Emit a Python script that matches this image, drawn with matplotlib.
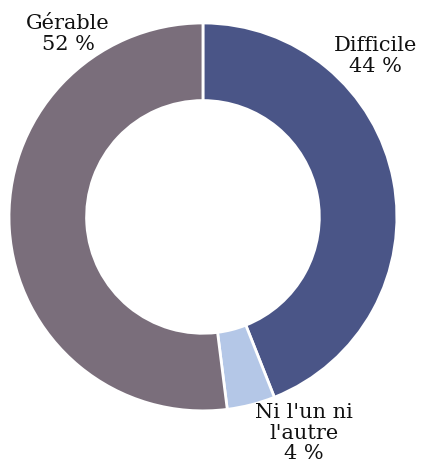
import matplotlib
matplotlib.use('Agg')
import matplotlib.pyplot as plt

labels = ['Difficile', "Ni l'un ni\nl'autre", 'Gérable']
values = [44, 4, 52]
colors = ['#4a5587', '#b4c7e7', '#7a6e7b']

plt.rcParams['font.family'] = ['DejaVu Serif']

fig = plt.figure(figsize=(4.23, 4.66), dpi=100)
ax = fig.add_axes([0.0213, 0.118, 0.917, 0.833])

ax.pie(values, colors=colors, startangle=90, counterclock=False,
       radius=1.0, wedgeprops=dict(width=0.40, edgecolor='white', linewidth=2))
ax.set_xlim(-1, 1)
ax.set_ylim(-1, 1)
ax.set_aspect('equal')

# etiquettes placees a la main comme dans l'original
label_pos = [(0.89, 0.83), (0.52, -1.115), (-0.695, 0.945)]
for lab, v, (x, y) in zip(labels, values, label_pos):
    ax.text(x, y, '%s\n%d %%' % (lab, v), ha='center', va='center',
            fontsize=15, color='#111111', linespacing=1.12, clip_on=False)

fig.savefig('out.png', dpi=100)
